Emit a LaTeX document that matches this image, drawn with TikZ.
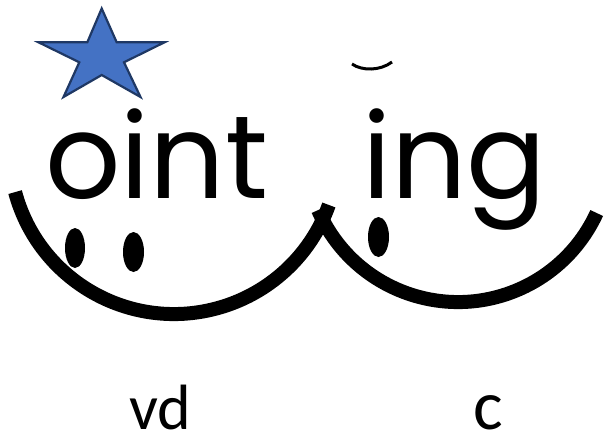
\documentclass[tikz,border=0pt]{standalone}
\usepackage{fontspec}
\setmainfont{Carlito}
\newfontfamily\wordfont{Poppins}
\definecolor{starfill}{HTML}{4472C4}
\definecolor{starline}{HTML}{1F3864}
\begin{document}
\begin{tikzpicture}[x=1pt,y=-1pt,
  wordtext/.style={inner sep=0pt,anchor=base west,font=\wordfont\fontsize{118}{118}\selectfont},
  labeltext/.style={inner sep=0pt,anchor=base west},
  smile/.style={line width=14pt,line cap=butt},
  eyedot/.style={fill=black,draw=none}]
\useasboundingbox (0,0) rectangle (605,434);
% star
\draw[fill=starfill,draw=starline,line width=2.2pt,line join=miter]
  (101.7,8.5) -- (116.7,42.3) -- (164.5,42.3) -- (124,62.3) -- (140.5,97)
  -- (101.7,75) -- (63.5,97) -- (79.3,62.3) -- (38.5,42.3) -- (87.3,42.3) -- cycle;
% words
\node[wordtext] (w1) at (45,198) {oint};
\node[wordtext] (w2) at (362,198) {ing};
% breve mark
\draw[line width=3pt] (352,64) .. controls (362,71) and (380,71) .. (392,62);
% smiles
\draw[smile] (15.1,192.1) arc[start angle=195,end angle=340.3,radius=164.5pt];
\draw[smile] (318.1,210.1) arc[start angle=203.4,end angle=335.4,radius=152.5pt];
% eye dots
\fill[eyedot] (75,248) ellipse[x radius=10,y radius=20];
\fill[eyedot] (133.5,252) ellipse[x radius=10.5,y radius=20];
\fill[eyedot] (378.5,237) ellipse[x radius=10.5,y radius=20];
% labels
\node[labeltext,font=\fontsize{64}{64}\selectfont] (l1) at (129,429) {vd};
\node[labeltext,font=\fontsize{70}{70}\selectfont] (l2) at (473,429) {c};
\end{tikzpicture}
\end{document}
